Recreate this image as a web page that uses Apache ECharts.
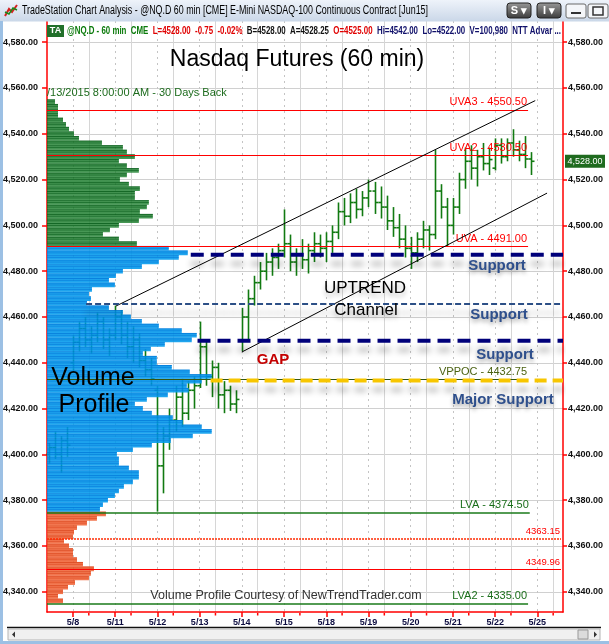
<!DOCTYPE html>
<html><head><meta charset="utf-8">
<script src="https://cdn.jsdelivr.net/npm/echarts@6/dist/echarts.min.js"></script>
<style>html,body{margin:0;padding:0;background:#fff;overflow:hidden}#c{width:609px;height:644px}</style>
</head><body><div id="c"></div>
<script>
// ---------------- data ----------------
const dayLabels = ['5/8','5/11','5/12','5/13','5/14','5/15','5/18','5/19','5/20','5/21','5/22','5/25'];
const priceTicks = [4340,4360,4380,4400,4420,4440,4460,4480,4500,4520,4540,4560,4580];
const barsPerSession = 7;
const sessionDays = [-1,0,1,2,3,4,5,6,7,8,9,10];
const sessionFirstSlot = [3,0,0,0,0,0,0,0,0,0,0,0];
// [open, high, low, close] per 60-min bar
const sessionBars = [
 [[4400,4405,4396,4403],[4403,4410,4398,4400],[4400,4408,4392,4406],[4406,4412,4399,4404]],
 [[4440,4452,4436,4449],[4449,4458,4445,4455],[4455,4460,4447,4450],[4450,4456,4444,4452],[4452,4462,4449,4458],[4458,4460,4446,4450],[4450,4455,4443,4452]],
 [[4452,4465,4450,4460],[4460,4463,4448,4452],[4452,4458,4442,4447],[4447,4456,4440,4450],[4450,4453,4438,4441],[4441,4446,4434,4437],[4437,4442,4430,4433]],
 [[4428,4430,4375,4395],[4395,4412,4383,4408],[4408,4420,4402,4415],[4415,4430,4410,4425],[4425,4433,4412,4418],[4418,4432,4415,4428],[4428,4434,4420,4430]],
 [[4430,4458,4429,4447],[4447,4450,4430,4434],[4434,4441,4425,4438],[4438,4440,4420,4426],[4426,4432,4418,4428],[4428,4430,4419,4422],[4422,4428,4418,4424]],
 [[4450,4464,4445,4460],[4460,4472,4450,4468],[4468,4478,4465,4475],[4475,4484,4472,4480],[4480,4488,4476,4484],[4484,4490,4478,4486],[4486,4492,4481,4489]],
 [[4489,4507,4486,4492],[4492,4496,4480,4484],[4484,4490,4478,4487],[4487,4494,4481,4485],[4485,4492,4479,4489],[4489,4497,4484,4492],[4492,4496,4486,4490]],
 [[4490,4497,4484,4493],[4493,4500,4488,4497],[4497,4510,4494,4506],[4506,4512,4500,4504],[4504,4514,4501,4510],[4510,4516,4503,4507],[4507,4515,4504,4512]],
 [[4512,4520,4508,4515],[4515,4519,4505,4510],[4510,4517,4503,4508],[4508,4513,4498,4502],[4502,4508,4495,4499],[4499,4505,4490,4494],[4494,4500,4486,4490]],
 [[4490,4495,4481,4488],[4488,4497,4484,4494],[4494,4502,4490,4498],[4498,4500,4489,4496],[4496,4533,4494,4515],[4515,4518,4503,4508],[4508,4512,4491,4500]],
 [[4500,4512,4496,4508],[4508,4523,4505,4520],[4520,4534,4516,4528],[4528,4535,4520,4525],[4525,4533,4517,4530],[4530,4536,4524,4527],[4527,4534,4522,4528.75]],
 [[4525,4538,4524,4535],[4535,4538,4527,4530],[4530,4538,4528,4536],[4536,4542,4530,4533],[4533,4537,4528,4531],[4531,4539,4525,4529],[4529,4532,4522,4528]]
];
// volume profile: 2-point bins starting at 4335
const profileStart = 4335;
const profileBin = 2;
const profileVolume = [
 16,11,16,21,28,42,44,47,36,30,26,26,22,17,26,27,30,40,50,59,
 53,56,61,68,72,77,86,92,92,82,72,72,70,86,105,124,146,165,155,136,
 126,105,96,88,100,121,142,140,155,165,143,125,110,110,96,104,118,145,150,135,
 112,95,84,76,62,40,44,42,45,68,62,69,76,95,112,132,141,122,
 90,72,56,63,72,92,106,93,100,102,88,88,93,82,73,80,92,80,72,88,
 80,76,55,32,27,22,19,16,11,11,11,8
];
const valueAreaHigh = 4491.00;
const valueAreaLow = 4374.50;
const levelLabels = ['UVA3 - 4550.50','UVA2 - 4530.50','UVA - 4491.00','VPPOC - 4432.75','LVA - 4374.50','4363.15','4349.96','LVA2 - 4335.00'];
const levelValues = [4550.50,4530.50,4491.00,4432.75,4374.50,4363.15,4349.96,4335.00];
const supportLevels = [4487.2,4465.7,4449.6,4432.3];
const channelUpper = [[1.02,4464.8],[10.95,4554.5]];
const channelLower = [[4.0,4444.7],[11.23,4514.1]];
const lastPrice = 4528.00;

// ---------------- chart ----------------
const FONT = '"Liberation Sans", Arial, sans-serif';
const X_MIN = -0.6147, X_MAX = 11.6076, Y_MIN = 4331.18, Y_MAX = 4589.26;
const dayIdx = dayLabels.map((_, i) => i);
const sessionStartIdx = dayLabels.map((_, i) => i + 0.375);

const barData = [];
sessionBars.forEach((bars, s) => {
  bars.forEach((b, i) => {
    const t = sessionDays[s] + (sessionFirstSlot[s] + i) / barsPerSession;
    barData.push([t, b[0], b[1], b[2], b[3]]);
  });
});
const profileData = profileVolume.map((v, i) => [v, profileStart + i * profileBin]);

const fmtPrice = v => Number(v).toLocaleString('en-US', {minimumFractionDigits: 2, maximumFractionDigits: 2});

const levelStyle = [
  {color:'#ff0000', width:1, type:'solid', end:10.78, lc:'#ff0000', fs:11},
  {color:'#ff0000', width:1, type:'solid', end:10.78, lc:'#ff0000', fs:11},
  {color:'#ff0000', width:1, type:'solid', end:10.78, lc:'#ff0000', fs:11},
  {color:'#35570f', width:1, type:'solid', end:10.78, lc:'#4b6212', fs:11},
  {color:'#1a7a1a', width:1.5, type:'solid', end:10.82, lc:'#1a6e1a', fs:11},
  {color:'#ff2a00', width:1.5, type:[2,1], end:11.56, lc:'#ff0000', fs:9.5},
  {color:'#ff0000', width:1, type:'solid', end:11.56, lc:'#ff0000', fs:9.5},
  {color:'#1a7a1a', width:1.5, type:'solid', end:10.78, lc:'#1a6e1a', fs:11}
];
const levelItems = levelValues.map((v, i) => {
  const s = levelStyle[i];
  return [{coord:[X_MIN, v], lineStyle:{color:s.color, width:s.width, type:s.type},
           label:{show:true, position:'insideEndTop', formatter:levelLabels[i], color:s.lc, fontSize:s.fs, fontFamily:FONT, distance:[1,2]}},
          {coord:[s.end, v]}];
});

const supportStyle = [
  {start:2.79, color:'#00007a', width:4, dash:[13,7]},
  {start:0.31, color:'#2c4f86', width:2, dash:[6,3]},
  {start:2.95, color:'#00007a', width:4, dash:[13,7]},
  {start:3.26, color:'#f7c600', width:4, dash:[12,6]}
];
const supportSeries = supportLevels.map((v, i) => ({
  type:'line', xAxisIndex:0, yAxisIndex:0, symbol:'none', silent:true, z:6,
  data:[[supportStyle[i].start, v],[X_MAX, v]],
  lineStyle:{color:supportStyle[i].color, width:supportStyle[i].width, type:supportStyle[i].dash,
             shadowColor:'rgba(0,0,0,0.30)', shadowBlur:6, shadowOffsetY:9}
}));

function profileColors(center){
  if (center >= valueAreaHigh) return ['rgba(30,128,48,0.82)','rgba(0,85,20,0.9)'];
  if (center >= valueAreaLow) return ['rgba(0,152,236,0.88)','rgba(0,115,215,0.9)'];
  return ['rgba(240,96,50,0.86)','rgba(215,65,25,0.9)'];
}

const axisLabelBase = {fontSize:9, fontWeight:'bold', fontFamily:FONT, color:'#111'};

function tw(txt, font){const c=document.createElement('canvas').getContext('2d'); c.font=font; return c.measureText(txt).width;}
const titleTxt = 'TradeStation Chart Analysis - @NQ.D 60 min [CME] E-Mini NASDAQ-100 Continuous Contract [Jun15]';
const titleFont = '12px ' + FONT;
const titleScale = 406 / tw(titleTxt, titleFont);
const hdrParts = [['g','@NQ.D - 60 min  CME  '],['r','L=4528.00  -0.75  -0.02%  '],['k','B=4528.00  A=4528.25  '],['r','O=4525.00  '],['b','Hi=4542.00  Lo=4522.00  V=100,980  NTT Advar ...']];
const hdrFont = 'bold 10px ' + FONT;
const hdrScale = 494 / tw(hdrParts.map(p => p[1]).join(''), hdrFont);
const hdrRich = hdrParts.map(p => '{' + p[0] + '|' + p[1] + '}').join('');

const supportTextStyle = {font:'bold 15px ' + FONT, fill:'#2e4f8c', textAlign:'center', textVerticalAlign:'middle',
  textShadowColor:'rgba(0,0,0,0.35)', textShadowBlur:4, textShadowOffsetY:3};

const graphics = [
  {type:'rect', id:'tb', shape:{x:0,y:0,width:609,height:21.5}, style:{fill:new echarts.graphic.LinearGradient(0,0,0,1,[{offset:0,color:'#eef3fa'},{offset:1,color:'#cad7e8'}])}, z:100},
  {type:'polyline', id:'ic1', shape:{points:[[5,16],[9,9],[12,12],[17,5]]}, style:{stroke:'#d42020', lineWidth:2, fill:null}, z:101},
  {type:'polyline', id:'ic2', shape:{points:[[5,12],[9,14],[13,8],[17,10]]}, style:{stroke:'#1a8a1a', lineWidth:1.5, fill:null}, z:101},
  {type:'text', id:'tt', x:22, y:11, scaleX:titleScale, style:{text:titleTxt, font:titleFont, fill:'#000', textVerticalAlign:'middle'}, z:101},
  {type:'rect', id:'bS', shape:{x:507,y:3,width:24,height:15,r:3}, style:{fill:new echarts.graphic.LinearGradient(0,0,0,1,[{offset:0,color:'#9a9a9a'},{offset:1,color:'#3a3a3a'}]), stroke:'#222'}, z:101},
  {type:'text', id:'bSt', x:519, y:11, style:{text:'S ▾', font:'bold 11px ' + FONT, fill:'#fff', textAlign:'center', textVerticalAlign:'middle'}, z:102},
  {type:'rect', id:'bI', shape:{x:537,y:3,width:24,height:15,r:3}, style:{fill:new echarts.graphic.LinearGradient(0,0,0,1,[{offset:0,color:'#9a9a9a'},{offset:1,color:'#3a3a3a'}]), stroke:'#222'}, z:101},
  {type:'text', id:'bIt', x:549, y:11, style:{text:'I ▾', font:'bold 11px ' + FONT, fill:'#fff', textAlign:'center', textVerticalAlign:'middle'}, z:102},
  {type:'rect', id:'bMin', shape:{x:566,y:4,width:20,height:14,r:2}, style:{fill:'#f4f6f9', stroke:'#6a6a6a'}, z:101},
  {type:'line', id:'bMinL', shape:{x1:571,y1:13,x2:581,y2:13}, style:{stroke:'#333', lineWidth:2}, z:102},
  {type:'rect', id:'bMax', shape:{x:588,y:4,width:20,height:14,r:2}, style:{fill:'#f4f6f9', stroke:'#6a6a6a'}, z:101},
  {type:'rect', id:'bMaxI', shape:{x:593,y:7,width:10,height:8}, style:{fill:null, stroke:'#333', lineWidth:1.5}, z:102},
  {type:'rect', id:'lb', shape:{x:0,y:21,width:3,height:623}, style:{fill:'#9cc0e4'}, z:100},
  {type:'rect', id:'bb', shape:{x:0,y:641,width:609,height:3}, style:{fill:'#9cc0e4'}, z:100},
  {type:'line', id:'sbl', shape:{x1:7,y1:627.5,x2:601,y2:627.5}, style:{stroke:'#111', lineWidth:1.5}, z:100},
  {type:'rect', id:'sb', shape:{x:8,y:629,width:592,height:11}, style:{fill:'#f0f0f0', stroke:'#b4b4b4'}, z:100},
  {type:'polygon', id:'sa1', shape:{points:[[12,634.5],[15,631.5],[15,637.5]]}, style:{fill:'#333'}, z:101},
  {type:'rect', id:'sth', shape:{x:578,y:630,width:10,height:9}, style:{fill:'#dcdcdc', stroke:'#999'}, z:101},
  {type:'polygon', id:'sa2', shape:{points:[[597,634.5],[594,631.5],[594,637.5]]}, style:{fill:'#333'}, z:101},
  {type:'rect', id:'ta', shape:{x:47,y:25,width:17,height:12}, style:{fill:'#21702a'}, z:100},
  {type:'text', id:'tat', x:55.5, y:31, style:{text:'TA', font:'bold 9px ' + FONT, fill:'#fff', textAlign:'center', textVerticalAlign:'middle'}, z:101},
  {type:'text', id:'hdr', x:67, y:31, scaleX:hdrScale, style:{text:hdrRich, font:hdrFont, textVerticalAlign:'middle',
    rich:{g:{fill:'#0a7a0a', font:hdrFont}, r:{fill:'#e00000', font:hdrFont}, k:{fill:'#111', font:hdrFont}, b:{fill:'#10106a', font:hdrFont}}}, z:100},
  {type:'text', id:'ttl', x:297, y:60, style:{text:'Nasdaq Futures (60 min)', font:'23px ' + FONT, fill:'#000', textAlign:'center', textVerticalAlign:'middle'}, z:50},
  {type:'text', id:'back', x:47, y:93, style:{text:'/13/2015 8:00:00 AM - 30 Days Back', font:'11px ' + FONT, fill:'#1d6b1d', textVerticalAlign:'middle'}, z:50},
  {type:'text', id:'vol', x:93, y:378, style:{text:'Volume', font:'25px ' + FONT, fill:'#000', textAlign:'center', textVerticalAlign:'middle'}, z:50},
  {type:'text', id:'prof', x:94, y:405, style:{text:'Profile', font:'25px ' + FONT, fill:'#000', textAlign:'center', textVerticalAlign:'middle'}, z:50},
  {type:'text', id:'up', x:365, y:288, style:{text:'UPTREND', font:'17px ' + FONT, fill:'#000', textAlign:'center', textVerticalAlign:'middle', textShadowColor:'rgba(0,0,0,0.25)', textShadowBlur:4, textShadowOffsetY:4}, z:50},
  {type:'text', id:'ch', x:366, y:310, style:{text:'Channel', font:'17px ' + FONT, fill:'#000', textAlign:'center', textVerticalAlign:'middle', textShadowColor:'rgba(0,0,0,0.25)', textShadowBlur:4, textShadowOffsetY:4}, z:50},
  {type:'text', id:'gap', x:273, y:360, style:{text:'GAP', font:'bold 15px ' + FONT, fill:'#c40000', textAlign:'center', textVerticalAlign:'middle'}, z:50},
  {type:'text', id:'s1', x:497, y:266, style:Object.assign({text:'Support'}, supportTextStyle), z:50},
  {type:'text', id:'s2', x:499, y:315, style:Object.assign({text:'Support'}, supportTextStyle), z:50},
  {type:'text', id:'s3', x:505, y:355, style:Object.assign({text:'Support'}, supportTextStyle), z:50},
  {type:'text', id:'s4', x:503, y:400, style:Object.assign({text:'Major Support'}, supportTextStyle), z:50},
  {type:'text', id:'court', x:286, y:596, style:{text:'Volume Profile Courtesy of NewTrendTrader.com', font:'12.5px ' + FONT, fill:'#333', textAlign:'center', textVerticalAlign:'middle'}, z:50}
];

const chart = echarts.init(document.getElementById('c'), null, {renderer:'canvas'});
const option = {
  animation:false,
  backgroundColor:'#ffffff',
  grid:{left:46, right:46, top:21, bottom:32, containLabel:false},
  xAxis:[
    {type:'value', min:X_MIN, max:X_MAX, position:'bottom',
     axisLine:{show:true, onZero:false, lineStyle:{color:'#ff0000', width:1.5}},
     axisTick:{show:true, customValues:dayIdx, length:5, lineStyle:{color:'#ff0000', width:1.5}},
     axisLabel:Object.assign({customValues:dayIdx, formatter:v => dayLabels[Math.round(v)], margin:6, color:'#0c0c40'}, {fontSize:9, fontWeight:'bold', fontFamily:FONT}),
     splitLine:{show:true, lineStyle:{color:'#c4c4c4', type:[2,4], width:1}}},
    {type:'value', min:X_MIN, max:X_MAX, position:'top',
     axisLine:{show:false, lineStyle:{color:'rgba(0,0,0,0)'}}, axisTick:{show:false, customValues:sessionStartIdx}, axisLabel:{show:false, customValues:sessionStartIdx},
     splitLine:{show:true, lineStyle:{color:'#d6d6d6', width:1}}},
    {type:'value', min:0, max:517, show:false}
  ],
  yAxis:[
    {type:'value', position:'left', min:Y_MIN, max:Y_MAX,
     axisLine:{show:true, onZero:false, lineStyle:{color:'#ff0000', width:1.5}},
     axisTick:{show:true, customValues:priceTicks, length:5, lineStyle:{color:'#ff0000', width:1.5}},
     axisLabel:Object.assign({customValues:priceTicks, formatter:fmtPrice, margin:9}, axisLabelBase),
     splitLine:{show:true, lineStyle:{color:'#d0d0d0', width:1}}},
    {type:'value', position:'right', min:Y_MIN, max:Y_MAX,
     axisLine:{show:true, onZero:false, lineStyle:{color:'#ff0000', width:1.5}},
     axisTick:{show:true, customValues:priceTicks, length:4, lineStyle:{color:'#ff0000', width:1.5}},
     axisLabel:Object.assign({customValues:priceTicks, formatter:fmtPrice, margin:5}, axisLabelBase),
     splitLine:{show:false}}
  ],
  series:[
    {type:'line', name:'levels', xAxisIndex:0, yAxisIndex:0, data:[], z:2, silent:true,
     markLine:{silent:true, symbol:['none','none'], animation:false, data:levelItems}},
    {type:'custom', name:'session ticks', xAxisIndex:0, yAxisIndex:0, z:2, silent:true,
     data:sessionStartIdx.map(t => [t]), encode:{x:0},
     renderItem:function(params, api){
       const p = api.coord([api.value(0), Y_MIN]);
       return {type:'line', shape:{x1:p[0], y1:p[1]+1, x2:p[0], y2:p[1]+3.5}, style:{stroke:'#ff0000', lineWidth:1.5}};
     }},
    {type:'custom', name:'NQ 60 min', xAxisIndex:0, yAxisIndex:0, z:3,
     data:barData, encode:{x:0, y:[1,2,3,4]},
     renderItem:function(params, api){
       const t = api.value(0);
       const pO = api.coord([t, api.value(1)]), pH = api.coord([t, api.value(2)]);
       const pL = api.coord([t, api.value(3)]), pC = api.coord([t, api.value(4)]);
       const x = Math.round(pH[0]) + 0.5;
       const st = {stroke:'#117a11', lineWidth:1.6};
       return {type:'group', children:[
         {type:'line', shape:{x1:x, y1:pH[1], x2:x, y2:pL[1]}, style:st},
         {type:'line', shape:{x1:x-3, y1:pO[1], x2:x, y2:pO[1]}, style:st},
         {type:'line', shape:{x1:x, y1:pC[1], x2:x+3, y2:pC[1]}, style:st}
       ]};
     }},
    {type:'custom', name:'profile', xAxisIndex:2, yAxisIndex:0, z:4,
     data:profileData, encode:{x:0, y:1},
     renderItem:function(params, api){
       const vol = api.value(0), lo = api.value(1);
       const pTop = api.coord([0, lo + profileBin]);
       const pBot = api.coord([vol, lo]);
       const pMid = api.coord([vol, lo + profileBin / 2]);
       const cols = profileColors(lo + profileBin / 2);
       return {type:'group', children:[
         {type:'rect', shape:{x:pTop[0], y:pTop[1], width:pBot[0]-pTop[0], height:pBot[1]-pTop[1]}, style:{fill:cols[0]}},
         {type:'line', shape:{x1:pTop[0], y1:pTop[1]+0.4, x2:pBot[0], y2:pTop[1]+0.4}, style:{stroke:cols[1], lineWidth:0.8}},
         {type:'line', shape:{x1:pTop[0], y1:pMid[1], x2:pBot[0], y2:pMid[1]}, style:{stroke:cols[1], lineWidth:0.6}}
       ]};
     }},
    {type:'line', name:'channel upper', xAxisIndex:0, yAxisIndex:0, data:channelUpper, symbol:'none', silent:true, z:5,
     lineStyle:{color:'#000', width:1}},
    {type:'line', name:'channel lower', xAxisIndex:0, yAxisIndex:0, data:channelLower, symbol:'none', silent:true, z:5,
     lineStyle:{color:'#000', width:1}}
  ].concat(supportSeries),
  graphic:graphics
};
chart.setOption(option);

const py = chart.convertToPixel({yAxisIndex:0}, lastPrice);
chart.setOption({graphic:[
  {type:'rect', id:'ptag', shape:{x:565, y:py-6.5, width:40, height:13}, style:{fill:'#1f6b1f'}, z:60},
  {type:'text', id:'ptagt', x:585, y:py, style:{text:fmtPrice(lastPrice), font:'9px ' + FONT, fill:'#fff', textAlign:'center', textVerticalAlign:'middle'}, z:61}
]});
</script>
</body></html>
